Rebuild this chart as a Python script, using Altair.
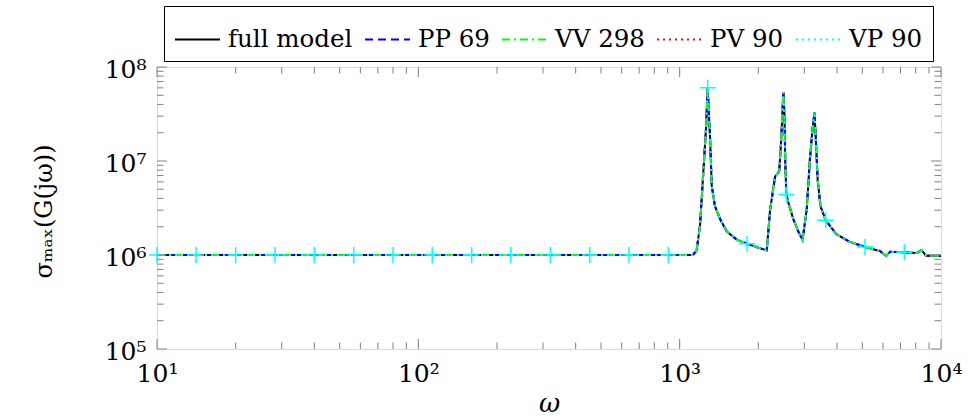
import altair as alt
import pandas as pd

# ---- series ----
SERIES = ["full model", "PP 69", "VV 298", "PV 90", "VP 90"]
COLORS = ["#000000", "#0000ff", "#00ff00", "#ff0000", "#00ffff"]
DASHES = [[1, 0], [8, 5], [8, 4, 2, 4], [2, 4], [2, 4]]

OMEGA = [10, 14.1, 20, 28.3, 40, 56.6, 80, 113, 160, 226, 320, 453, 640, 905, 1124,
         1161, 1197, 1233, 1262, 1280, 1306, 1327, 1365, 1429, 1514, 1656, 1810, 1995, 2153,
         2218, 2317, 2404, 2443, 2472, 2495, 2518, 2535, 2560, 2606, 2723, 2844, 2951,
         3062, 3148, 3214, 3281, 3319, 3373, 3459, 3620, 3981, 4477, 5120, 5848, 6166,
         6383, 7240, 8072, 8433, 8770, 10000]

FULL = [1.0e6, 1.0e6, 1.0e6, 1.0e6, 1.0e6, 1.0e6, 1.0e6, 1.0e6, 1.0e6, 1.0e6, 1.0e6, 1.0e6, 1.0e6, 1.0e6, 1.0e6,
        1.12e6, 2.1e6, 7.9e6, 2.3e7, 6.0e7, 1.86e7, 5.4e6, 3.3e6, 2.4e6, 1.78e6, 1.45e6, 1.32e6, 1.2e6, 1.12e6,
        3.0e6, 6.8e6, 7.8e6, 1.58e7, 3.2e7, 5.4e7, 3.0e7, 1.0e7, 4.4e6, 3.6e6, 2.4e6, 1.78e6, 1.45e6,
        3.0e6, 1.02e7, 2.0e7, 3.3e7, 1.7e7, 6.3e6, 3.3e6, 2.34e6, 1.66e6, 1.38e6, 1.22e6, 1.1e6, 0.98e6,
        1.08e6, 1.07e6, 1.05e6, 1.12e6, 0.98e6, 0.98e6]
PP69 = list(FULL)
VV298 = list(FULL)
PV90 = list(FULL)
VP90 = list(FULL)

# '+' markers of the VP 90 curve
MARK_OMEGA = [10, 14.1, 20, 28.3, 40, 56.6, 80, 113, 160, 226, 320, 453, 640, 905,
              1280, 1810, 2560, 3620, 5120, 7240]
MARK_SIGMA = [1.0e6, 1.0e6, 1.0e6, 1.0e6, 1.0e6, 1.0e6, 1.0e6, 1.0e6, 1.0e6, 1.0e6, 1.0e6, 1.0e6, 1.0e6, 1.0e6,
              6.0e7, 1.32e6, 4.4e6, 2.34e6, 1.22e6, 1.07e6]

# ---- axes ----
X_TICKS = [10, 100, 1000, 10000]
X_TICK_LABELS = ["10¹", "10²", "10³", "10⁴"]
Y_TICKS = [1e5, 1e6, 1e7, 1e8]
Y_TICK_LABELS = ["10⁵", "10⁶", "10⁷", "10⁸"]
X_MINOR = [k * d for d in (10, 100, 1000) for k in range(2, 10)]
Y_MINOR = [k * d for d in (1e5, 1e6, 1e7) for k in range(2, 10)]

W, H = 784, 282
FONT = "DejaVu Serif"
TICK_COLOR = "#808080"


def label_expr(vals, labels):
    parts = []
    for v, l in zip(vals, labels):
        e = len(str(int(v))) - 1
        parts.append(f"abs(log(datum.value)/LN10 - {e}) < 0.01 ? '{l}'")
    return " : ".join(parts) + " : ''"


rows = []
for name, vals in zip(SERIES, [FULL, PP69, VV298, PV90, VP90]):
    for o, s in zip(OMEGA, vals):
        rows.append({"series": name, "omega": o, "sigma": s})
df = pd.DataFrame(rows)
mdf = pd.DataFrame({"omega": MARK_OMEGA, "sigma": MARK_SIGMA})

xscale = alt.Scale(type="log", domain=[10, 10000], nice=False)
yscale = alt.Scale(type="log", domain=[1e5, 1e8], nice=False)

XAXIS = alt.Axis(values=X_TICKS, labelExpr=label_expr(X_TICKS, X_TICK_LABELS),
                 ticks=False, domain=False, grid=False, labelPadding=12, labelFlush=False,
                 labelFont=FONT, labelFontSize=25, labelColor="black",
                 titleFont=FONT, titleFontSize=26, titleFontStyle="italic",
                 titleFontWeight="normal", titleColor="black",
                 titleBaseline="alphabetic", titleY=62, titleX=W / 2)
YAXIS = alt.Axis(values=Y_TICKS, labelExpr=label_expr(Y_TICKS, Y_TICK_LABELS),
                 ticks=False, domain=False, grid=False, labelPadding=11, labelFlush=False,
                 labelOffset=2,
                 labelFont=FONT, labelFontSize=25, labelColor="black",
                 titleFont=FONT, titleFontSize=24, titleFontWeight="normal",
                 titleColor="black", titleAngle=270, titleBaseline="alphabetic",
                 titleX=-106, titleY=H / 2 + 3)
XTITLE = "ω"
YTITLE = "σₘₐₓ(G(jω))"


def X(field):
    return alt.X(f"{field}:Q", scale=xscale, axis=XAXIS, title=XTITLE)


def Y(field):
    return alt.Y(f"{field}:Q", scale=yscale, axis=YAXIS, title=YTITLE)


legend = alt.Legend(
    orient="none", legendX=7, legendY=-61, direction="horizontal", title=None,
    symbolType="stroke", symbolSize=2025, symbolStrokeWidth=2,
    labelFont=FONT, labelFontSize=24.5, labelColor="black", labelOffset=7,
    columnPadding=8, padding=10, strokeColor="black", fillColor="white", labelLimit=400,
)

lines = alt.Chart(df).mark_line(strokeWidth=2, clip=True).encode(
    x=X("omega"),
    y=Y("sigma"),
    color=alt.Color("series:N", scale=alt.Scale(domain=SERIES, range=COLORS), legend=legend),
    strokeDash=alt.StrokeDash("series:N", scale=alt.Scale(domain=SERIES, range=DASHES), legend=legend),
)

marks = alt.Chart(mdf).mark_point(
    shape="M-1,0L1,0M0,-1L0,1", size=256, filled=False, stroke="#00ffff",
    strokeWidth=1.5, opacity=1,
).encode(x=X("omega"), y=Y("sigma"))


def xticks(vals, length):
    d = pd.DataFrame({"omega": vals})
    base = alt.Chart(d).mark_tick(size=length, thickness=1, color=TICK_COLOR, opacity=1)
    return [
        base.encode(x=X("omega"), y=alt.value(H - length / 2)),
        base.encode(x=X("omega"), y=alt.value(length / 2)),
    ]


def yticks(vals, length):
    d = pd.DataFrame({"sigma": vals})
    base = alt.Chart(d).mark_tick(size=length, thickness=1, color=TICK_COLOR, opacity=1)
    return [
        base.encode(y=Y("sigma"), x=alt.value(length / 2)),
        base.encode(y=Y("sigma"), x=alt.value(W - length / 2)),
    ]


layers = ([lines, marks] + xticks(X_MINOR, 6.5) + xticks(X_TICKS, 10)
          + yticks(Y_MINOR, 6.5) + yticks(Y_TICKS, 10))

chart = alt.layer(*layers).properties(
    width=W, height=H,
    autosize=alt.AutoSizeParams(type="none"),
    padding={"left": 157, "top": 67, "right": 36, "bottom": 67},
).configure_view(stroke="#333333", strokeWidth=1.5).configure(background="white")

chart.save("out.html", embed_options={"renderer": "svg", "actions": False})
